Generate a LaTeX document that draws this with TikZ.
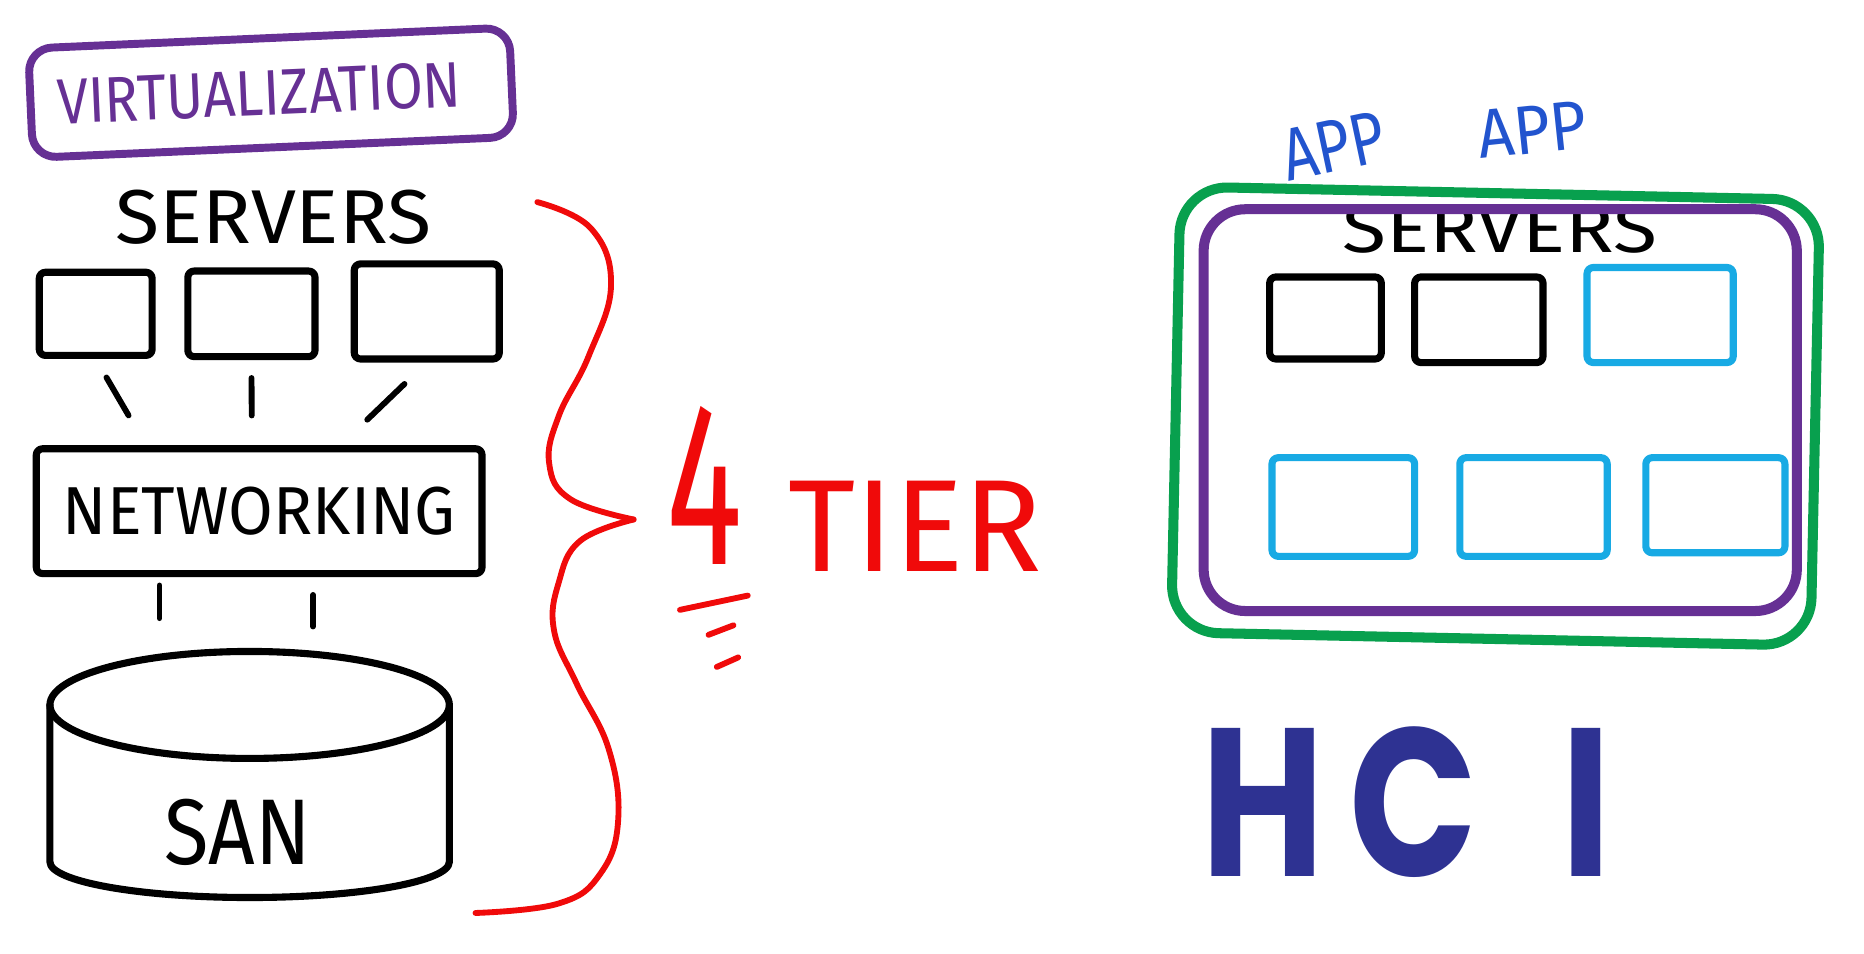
\documentclass[tikz,border=0pt]{standalone}
\usepackage{fontspec}
\usepackage{graphicx}
\setmainfont{Fira Sans}
\newfontfamily\hcifont{Poppins}
\usetikzlibrary{calc}

\definecolor{penpurple}{RGB}{102,48,148}
\definecolor{pengreen}{RGB}{8,160,78}
\definecolor{pencyan}{RGB}{24,170,228}
\definecolor{penblue}{RGB}{34,84,206}
\definecolor{penred}{RGB}{240,10,10}
\definecolor{hciblue}{RGB}{46,50,146}

\newcommand{\scrawl}[3]{\resizebox{#1}{#2}{#3}}

\tikzset{
  hand/.style={inner sep=0pt, outer sep=0pt},
  srvbox/.style={draw, line width=1.7pt, rounded corners=1.5pt, line join=round, inner sep=0pt},
  wire/.style={line width=1.4pt, line cap=round},
  tube/.style={line width=1.7pt, line cap=round, line join=round},
  redpen/.style={draw=penred, line width=1.4pt, line cap=round, line join=round},
  tray/.style={draw, line width=2.4pt, rounded corners=4mm, inner sep=0pt},
}

\begin{document}
\begin{tikzpicture}[x=0.1mm, y=-0.1mm]
  \fill[white] (0,0) rectangle (1568,802);
  \useasboundingbox (0,0) rectangle (1568,802);

  % classic stack
  \node[srvbox, draw=penpurple, line width=1.9pt, rounded corners=2mm, minimum width=40.5mm,
        minimum height=9.2mm, rotate=2.5, text=penpurple] (virt) at (228,78) {\scrawl{34mm}{3.8mm}{VIRTUALIZATION}\kern2mm};
  \node[hand] (srvlbl) at (230,183) {\scrawl{26.6mm}{4.5mm}{SERVERS}};
  \node[srvbox, minimum width=9.5mm, minimum height=7mm] (srv1) at (80.5,264) {};
  \node[srvbox, minimum width=10.7mm, minimum height=7.2mm] (srv2) at (211.5,264) {};
  \node[srvbox, minimum width=12.2mm, minimum height=8mm] (srv3) at (359,262) {};
  \node[srvbox, minimum width=37.5mm, minimum height=10.5mm] (net) at (218,430) {\scrawl{33mm}{4mm}{NETWORKING}};

  % SAN drum
  \coordinate (san) at (210,593);
  \coordinate (santop) at ($(san)+(0,-45)$);
  \draw[tube] (san) ellipse [x radius=168, y radius=45];
  \draw[tube] ($(san)+(-168,0)$) -- ++(0,132) arc[start angle=180, end angle=0, x radius=168, y radius=30] -- ++(0,-132);
  \node[hand] (sanlbl) at (200,700) {\scrawl{12.3mm}{5.5mm}{SAN}};

  \draw[wire, shorten <=1.8mm, shorten >=2.9mm] (srv1.south) -- ($(net.north west)!0.25!(net.north east)$);
  \draw[wire, shorten <=1.5mm, shorten >=2.5mm] (srv2.south) -- ($(net.north west)!0.484!(net.north east)$);
  \draw[wire, shorten <=2.6mm, shorten >=3.1mm] (srv3.south) -- ($(net.north west)!0.68!(net.north east)$);
  \coordinate (n1) at ($(net.south west)!0.28!(net.south east)$);
  \coordinate (n2) at ($(net.south west)!0.619!(net.south east)$);
  \draw[wire, shorten <=0.7mm, shorten >=2.8mm] (n1) -- (n1 |- santop);
  \draw[wire, shorten <=1.5mm, shorten >=2.1mm] (n2) -- (n2 |- santop);

  % brace and tier count
  \draw[redpen] plot[smooth, tension=0.7] coordinates {(452,170) (497,192) (514,240) (495,300)
    (470,350) (462,390) (480,420) (533,437)};
  \draw[redpen] plot[smooth, tension=0.7] coordinates {(533,437) (488,455) (470,490) (466,530)
    (485,575) (512,630) (520,690) (505,735) (470,760) (400,768)};
  \node[hand, text=penred] (four) at (593,408.5) {\scrawl{6.4mm}{13.3mm}{4}};
  \node[hand, text=penred] (tier) at (770,443) {\scrawl{21.3mm}{7.6mm}{TIER}};
  \draw[redpen] ($(four.south)+(-21,38)$) -- ($(four.south)+(36,26)$);
  \draw[redpen] ($(four.south)+(3,59)$) -- ($(four.south)+(24,51)$);
  \draw[redpen] ($(four.south)+(10,86)$) -- ($(four.south)+(28,78)$);

  % hyperconverged box
  \node[hand, text=penblue, rotate=12] (app1) at (1122,123) {\scrawl{8.7mm}{4.3mm}{APP}};
  \node[hand, text=penblue, rotate=6] (app2) at (1289,109) {\scrawl{9.2mm}{4mm}{APP}};
  \node[hand] (hcisrv) at (1262,193) {\scrawl{26.5mm}{4mm}{SERVERS}};
  \node[srvbox, minimum width=9.4mm, minimum height=6.9mm] (hsrv1) at (1115,267.5) {};
  \node[srvbox, minimum width=10.8mm, minimum height=7.2mm] (hsrv2) at (1244,269) {};
  \node[srvbox, draw=pencyan, minimum width=12.3mm, minimum height=8mm] (vm1) at (1396.5,265) {};
  \node[srvbox, draw=pencyan, minimum width=12mm, minimum height=8.3mm] (vm2) at (1130,426.5) {};
  \node[srvbox, draw=pencyan, minimum width=12.4mm, minimum height=8.3mm] (vm3) at (1290,426.5) {};
  \node[srvbox, draw=pencyan, minimum width=11.7mm, minimum height=8mm] (vm4) at (1443,425) {};
  \node[tray, draw=pengreen, minimum width=53.8mm, minimum height=37.5mm, rotate=-1.2] (hci) at (1258,350) {};
  \node[tray, draw=penpurple, minimum width=49.9mm, minimum height=33.8mm, rounded corners=3.5mm] (hyper) at (1262,345) {};
  \node[hand, text=hciblue] (hcilbl) at (1183,675) {\scrawl{34.5mm}{12.6mm}{\hcifont\bfseries H\kern0.15em C\kern0.5em I}};
\end{tikzpicture}
\end{document}
